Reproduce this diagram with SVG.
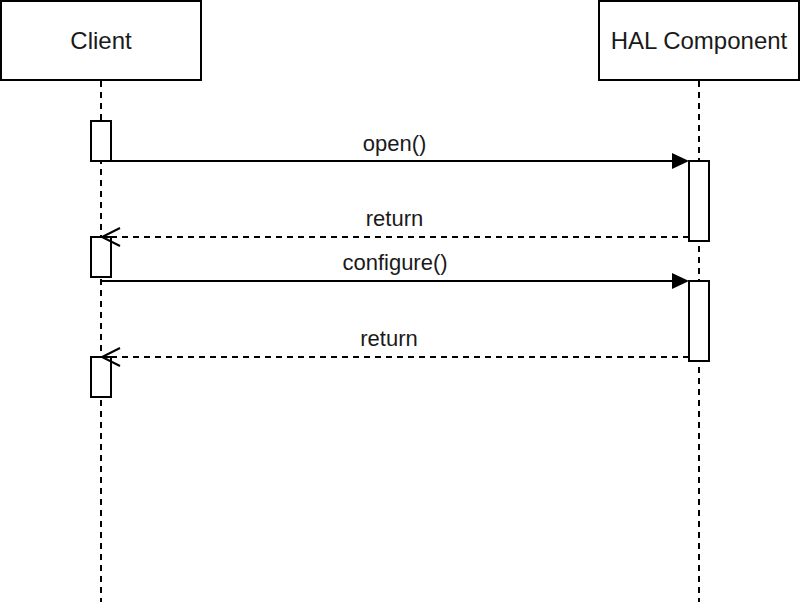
<svg xmlns="http://www.w3.org/2000/svg" width="800" height="602" viewBox="0 0 800 602">
<defs>
<style>
.box{fill:#fff;stroke:#000;stroke-width:2}
.life{stroke:#000;stroke-width:2;stroke-dasharray:6 5;fill:none}
.msg{stroke:#000;stroke-width:2;fill:none}
.ret{stroke:#000;stroke-width:2;fill:none;stroke-dasharray:6 5}
.head{font-family:"Liberation Sans",Arial,sans-serif;font-size:24px;fill:#1a1a1a;text-anchor:middle}
.lbl{font-family:"Liberation Sans",Arial,sans-serif;font-size:22px;fill:#1a1a1a;text-anchor:middle}
</style>
</defs>
<rect width="800" height="602" fill="#fff"/>
<g id="client">
<line class="life" x1="101" y1="81" x2="101" y2="602"/>
<rect class="box" x="1" y="1" width="200" height="79"/>
<text class="head" x="101" y="48.5">Client</text>
<rect class="box" x="91" y="121" width="20" height="40"/>
<rect class="box" x="91" y="237" width="20" height="40"/>
<rect class="box" x="91" y="357" width="20" height="40"/>
</g>
<g id="hal">
<line class="life" x1="699" y1="81" x2="699" y2="602"/>
<rect class="box" x="599" y="1" width="200" height="79"/>
<text class="head" x="699" y="48.5">HAL Component</text>
<rect class="box" x="689" y="161" width="20" height="80"/>
<rect class="box" x="689" y="281" width="20" height="80"/>
</g>
<g id="connectors">
<line class="msg" x1="111" y1="161" x2="672" y2="161"/>
<path d="M672,153 L689,161 L672,169 Z" fill="#000"/>
<text class="lbl" x="394.5" y="150.5">open()</text>
<line class="ret" x1="689" y1="237" x2="103" y2="237"/>
<path d="M120,228 L102,237 L120,246" fill="none" stroke="#000" stroke-width="2"/>
<text class="lbl" x="394.5" y="225.5">return</text>
<line class="msg" x1="100" y1="281" x2="672" y2="281"/>
<path d="M672,273 L689,281 L672,289 Z" fill="#000"/>
<text class="lbl" x="395" y="270">configure()</text>
<line class="ret" x1="689" y1="357" x2="103" y2="357"/>
<path d="M120,348 L102,357 L120,366" fill="none" stroke="#000" stroke-width="2"/>
<text class="lbl" x="389" y="346">return</text>
</g>
</svg>
